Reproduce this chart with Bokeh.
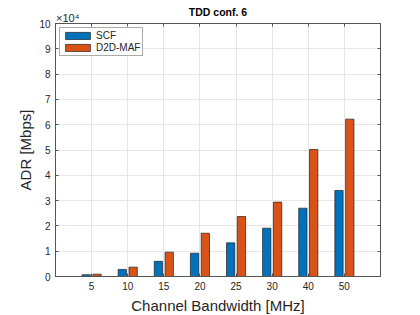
from bokeh.plotting import figure
from bokeh.models import (ColumnDataSource, FixedTicker, LinearAxis, Range1d, Title)
from bokeh.transform import dodge
from bokeh.embed import file_html
from bokeh.resources import INLINE

# ---- data ----
bandwidths = ["5", "10", "15", "20", "25", "30", "40", "50"]          # MHz (x tick labels)
scf = [700, 2800, 6000, 9200, 13300, 19100, 27000, 34000]             # Mbps
d2d_maf = [900, 3700, 9600, 17100, 23700, 29400, 50200, 62200]        # Mbps
y_ticks = [0, 10000, 20000, 30000, 40000, 50000, 60000, 70000, 80000, 90000, 100000]
y_tick_labels = ["0", "1", "2", "3", "4", "5", "6", "7", "8", "9", "10"]
y_exponent = "\u00d710\u2074"
series_names = ["SCF", "D2D-MAF"]
series_colors = ["#0072BD", "#D95319"]
title_text = "TDD conf. 6"

FONT = "Liberation Sans"
TXT = "#262626"
AX = "#555555"

pos = list(range(1, len(bandwidths) + 1))
src = ColumnDataSource(dict(x=pos, scf=scf, d2d=d2d_maf))

p = figure(width=420, height=315, x_range=Range1d(0, len(bandwidths) + 1),
           y_range=Range1d(0, 100000),
           min_border_left=55, min_border_right=40, min_border_top=23, min_border_bottom=39,
           toolbar_location=None, output_backend="svg")
p.background_fill_color = "white"
p.border_fill_color = "white"
p.outline_line_color = AX
p.outline_line_width = 1

bw = 0.23
p.vbar(x=dodge("x", -0.15, range=p.x_range), top="scf", width=bw, source=src,
       fill_color=series_colors[0], line_color="#1f1f1f", line_width=0.7,
       legend_label=series_names[0])
p.vbar(x=dodge("x", 0.15, range=p.x_range), top="d2d", width=bw, source=src,
       fill_color=series_colors[1], line_color="#1f1f1f", line_width=0.7,
       legend_label=series_names[1])

xt = FixedTicker(ticks=pos)
yt = FixedTicker(ticks=y_ticks)
x_over = {p_: lab for p_, lab in zip(pos, bandwidths)}
y_over = {t: lab for t, lab in zip(y_ticks, y_tick_labels)}

def style(ax, ticker):
    ax.ticker = ticker
    ax.axis_line_color = AX
    ax.axis_line_width = 1
    ax.major_tick_line_color = AX
    ax.major_tick_in = 3
    ax.major_tick_out = 0
    ax.minor_tick_line_color = None
    ax.major_label_text_font = FONT
    ax.major_label_text_color = TXT
    ax.major_label_text_font_size = "10px"

style(p.xaxis[0], xt)
p.xaxis[0].major_label_overrides = x_over
p.xaxis[0].major_label_standoff = 5
style(p.yaxis[0], yt)
p.yaxis[0].major_label_overrides = y_over
p.yaxis[0].major_label_standoff = 5

# right axis: only inward ticks (box)
right_ax = LinearAxis()
style(right_ax, yt)
right_ax.major_label_text_font_size = "1px"
right_ax.major_label_text_color = None
right_ax.major_label_standoff = 0
p.add_layout(right_ax, "right")

# top axis: inward ticks (box), the y exponent at the left end, title as axis label
top_ax = LinearAxis()
style(top_ax, FixedTicker(ticks=[0] + pos))
top_over = {0: "\u00a0" * 8 + y_exponent}
top_over.update({p_: "" for p_ in pos})
top_ax.major_label_overrides = top_over
top_ax.major_label_text_font_size = "11px"
top_ax.major_label_standoff = 0
top_ax.axis_label = title_text
top_ax.axis_label_text_font = FONT
top_ax.axis_label_text_font_size = "10.5px"
top_ax.axis_label_text_font_style = "bold"
top_ax.axis_label_text_color = "black"
top_ax.axis_label_standoff = -9
p.add_layout(top_ax, "above")

p.xgrid.ticker = xt
p.ygrid.ticker = yt
p.xgrid.grid_line_color = "#e6e6e6"
p.ygrid.grid_line_color = "#e6e6e6"

# legend
lg = p.legend[0]
lg.location = "top_left"
lg.margin = 4
lg.padding = 2
lg.spacing = 1
lg.glyph_width = 31
lg.glyph_height = 9
lg.label_height = 10
lg.label_standoff = 3
lg.label_text_font = FONT
lg.label_text_font_size = "10px"
lg.label_text_color = TXT
lg.border_line_color = AX
lg.border_line_width = 0.8
lg.background_fill_color = "white"
lg.background_fill_alpha = 1

# axis labels as side titles
p.add_layout(Title(text="ADR [Mbps]", align="center", text_font=FONT, text_font_size="15px",
                   text_font_style="normal", text_color=TXT, standoff=5), "left")
p.add_layout(Title(text="Channel Bandwidth [MHz]", align="center", text_font=FONT,
                   text_font_size="15px", text_font_style="normal", text_color=TXT,
                   standoff=4), "below")

open("out.html", "w").write(file_html(p, INLINE))
